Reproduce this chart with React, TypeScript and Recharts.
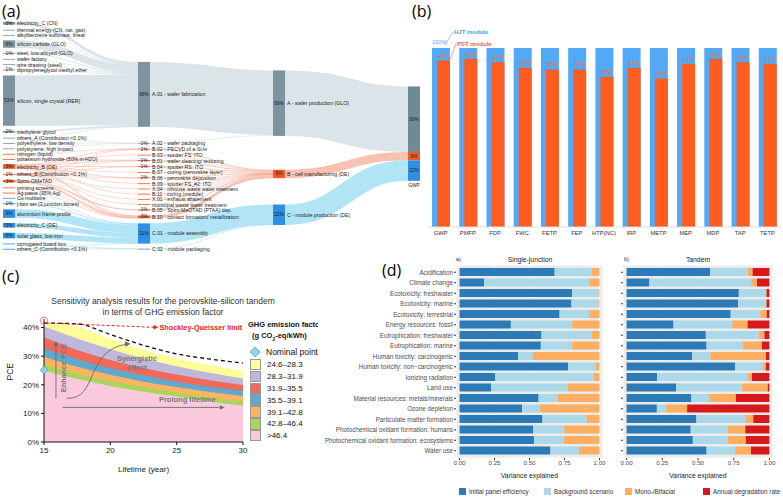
import React from "react";
import {
  Sankey,
  BarChart,
  Bar,
  XAxis,
  YAxis,
  CartesianGrid,
  LabelList,
  ComposedChart,
  Area,
  Line,
  ReferenceLine,
  ReferenceDot,
} from "recharts";

const FONT = '"Liberation Sans", Arial, sans-serif';

// ---------------- (a) sankey ----------------
const inputNodes: [string, string][] = [
  ["electricity_C (CN)", "A"],
  ["thermal energy (CN, nat. gas)", "A"],
  ["alkylbenzene sulfonate, linear", "A"],
  ["silicon carbide (GLO)", "A"],
  ["steel, low-alloyed (GLO)", "A"],
  ["wafer factory", "A"],
  ["wire drawing (steel)", "A"],
  ["dipropyleneglycol methyl ether", "A"],
  ["silicon, single crystal (RER)", "A"],
  ["triethylene glycol", "A"],
  ["others_A (Contribution <0.1%)", "A"],
  ["polyethylene, low density", "A"],
  ["polystyrene, high impact", "A"],
  ["nitrogen (liquid)", "B"],
  ["potassium hydroxide (50% in H2O)", "B"],
  ["electricity_B (DE)", "B"],
  ["others_B (Contribution <0.1%)", "B"],
  ["Spiro-OMeTAD", "B"],
  ["printing screens", "B"],
  ["Ag-paste (95% Ag)", "B"],
  ["Cu multiwire", "C"],
  ["j-box set (3 junction boxes)", "C"],
  ["aluminium frame profile", "C"],
  ["electricity_C (DE)", "C"],
  ["solar glass, low-iron", "C"],
  ["corrugated board box", "C"],
  ["others_C (Contribution <0.1%)", "C"],
];

const processNodes: [string, string][] = [
  ["A.01 - wafer fabrication", "A"],
  ["A.02 - wafer packaging", "A"],
  ["B.02 - PECVD of a-Si:H", "B"],
  ["B.03 - sputter FS: ITO", "B"],
  ["B.01 - wafer cleaning/ texturing", "B"],
  ["B.04 - sputter RS: ITO", "B"],
  ["B.07 - curing (perovskite layer)", "B"],
  ["B.06 - perovskite deposition", "B"],
  ["B.09 - sputter FS_#2: ITO", "B"],
  ["X.04 - inhouse waste water treatment", "B"],
  ["B.11 - curing (module)", "B"],
  ["X.01 - exhaust abatement", "B"],
  ["municipal waste water treatment", "B"],
  ["B.05 - Spiro-MeOTAD (PTAA) dep.", "B"],
  ["B.10 - contact formation/ metallization", "B"],
  ["C.01 - module assembly", "C"],
  ["C.02 - module packaging", "C"],
];

const stageNodes: [string, string][] = [
  ["A - wafer production (GLO)", "A"],
  ["B - cell manufacturing (DE)", "B"],
  ["C - module production (DE)", "C"],
];

const impactNode: [string, string] = ["GWP", "T"];

const inputLinks: [string, string, number][] = [
  ["electricity_C (CN)", "A.01 - wafer fabrication", 2.8],
  ["thermal energy (CN, nat. gas)", "A.01 - wafer fabrication", 0.2],
  ["alkylbenzene sulfonate, linear", "A.01 - wafer fabrication", 0.2],
  ["silicon carbide (GLO)", "A.01 - wafer fabrication", 7.8],
  ["steel, low-alloyed (GLO)", "A.01 - wafer fabrication", 1.0],
  ["wafer factory", "A.01 - wafer fabrication", 0.2],
  ["wire drawing (steel)", "A.01 - wafer fabrication", 0.2],
  ["dipropyleneglycol methyl ether", "A.01 - wafer fabrication", 0.9],
  ["silicon, single crystal (RER)", "A.01 - wafer fabrication", 53.0],
  ["triethylene glycol", "A.01 - wafer fabrication", 1.8],
  ["others_A (Contribution <0.1%)", "A.01 - wafer fabrication", 0.1],
  ["others_A (Contribution <0.1%)", "A.02 - wafer packaging", 0.1],
  ["polyethylene, low density", "A.02 - wafer packaging", 0.3],
  ["polystyrene, high impact", "A.02 - wafer packaging", 0.3],
  ["nitrogen (liquid)", "B.02 - PECVD of a-Si:H", 0.1],
  ["potassium hydroxide (50% in H2O)", "B.01 - wafer cleaning/ texturing", 0.1],
  ["electricity_B (DE)", "B.02 - PECVD of a-Si:H", 0.8],
  ["electricity_B (DE)", "B.03 - sputter FS: ITO", 0.2],
  ["electricity_B (DE)", "B.01 - wafer cleaning/ texturing", 0.8],
  ["electricity_B (DE)", "B.04 - sputter RS: ITO", 0.8],
  ["electricity_B (DE)", "B.07 - curing (perovskite layer)", 0.2],
  ["electricity_B (DE)", "B.06 - perovskite deposition", 0.8],
  ["electricity_B (DE)", "B.09 - sputter FS_#2: ITO", 0.2],
  ["electricity_B (DE)", "B.11 - curing (module)", 0.1],
  ["electricity_B (DE)", "B.10 - contact formation/ metallization", 1.0],
  ["others_B (Contribution <0.1%)", "B.02 - PECVD of a-Si:H", 0.1],
  ["others_B (Contribution <0.1%)", "B.01 - wafer cleaning/ texturing", 0.1],
  ["others_B (Contribution <0.1%)", "B.04 - sputter RS: ITO", 0.1],
  ["others_B (Contribution <0.1%)", "B.06 - perovskite deposition", 0.1],
  ["others_B (Contribution <0.1%)", "X.04 - inhouse waste water treatment", 0.1],
  ["others_B (Contribution <0.1%)", "X.01 - exhaust abatement", 0.1],
  ["others_B (Contribution <0.1%)", "municipal waste water treatment", 0.1],
  ["others_B (Contribution <0.1%)", "B.10 - contact formation/ metallization", 0.2],
  ["Spiro-OMeTAD", "B.05 - Spiro-MeOTAD (PTAA) dep.", 1.1],
  ["Spiro-OMeTAD", "B.10 - contact formation/ metallization", 1.5],
  ["printing screens", "B.10 - contact formation/ metallization", 0.1],
  ["Ag-paste (95% Ag)", "B.10 - contact formation/ metallization", 0.1],
  ["Cu multiwire", "C.01 - module assembly", 0.3],
  ["j-box set (3 junction boxes)", "C.01 - module assembly", 1.0],
  ["aluminium frame profile", "C.01 - module assembly", 9.0],
  ["electricity_C (DE)", "C.01 - module assembly", 4.9],
  ["solar glass, low-iron", "C.01 - module assembly", 6.0],
  ["corrugated board box", "C.02 - module packaging", 0.2],
  ["others_C (Contribution <0.1%)", "C.01 - module assembly", 0.1],
  ["others_C (Contribution <0.1%)", "C.02 - module packaging", 0.1],
];

const processLinks: [string, string, number][] = [
  ["A.01 - wafer fabrication", "A - wafer production (GLO)", 68.2],
  ["A.02 - wafer packaging", "A - wafer production (GLO)", 0.7],
  ["B.02 - PECVD of a-Si:H", "B - cell manufacturing (DE)", 1.0],
  ["B.03 - sputter FS: ITO", "B - cell manufacturing (DE)", 0.2],
  ["B.01 - wafer cleaning/ texturing", "B - cell manufacturing (DE)", 1.0],
  ["B.04 - sputter RS: ITO", "B - cell manufacturing (DE)", 0.9],
  ["B.07 - curing (perovskite layer)", "B - cell manufacturing (DE)", 0.2],
  ["B.06 - perovskite deposition", "B - cell manufacturing (DE)", 0.9],
  ["B.09 - sputter FS_#2: ITO", "B - cell manufacturing (DE)", 0.2],
  ["X.04 - inhouse waste water treatment", "B - cell manufacturing (DE)", 0.1],
  ["B.11 - curing (module)", "B - cell manufacturing (DE)", 0.1],
  ["X.01 - exhaust abatement", "B - cell manufacturing (DE)", 0.1],
  ["municipal waste water treatment", "B - cell manufacturing (DE)", 0.1],
  ["B.05 - Spiro-MeOTAD (PTAA) dep.", "B - cell manufacturing (DE)", 1.1],
  ["B.10 - contact formation/ metallization", "B - cell manufacturing (DE)", 2.9],
  ["C.01 - module assembly", "C - module production (DE)", 21.3],
  ["C.02 - module packaging", "C - module production (DE)", 0.3],
];

const stageLinks: [string, string, number][] = [
  ["A - wafer production (GLO)", "GWP", 68.9],
  ["B - cell manufacturing (DE)", "GWP", 8.8],
  ["C - module production (DE)", "GWP", 21.6],
];

const NODE_COLOR: Record<string, string> = { A: "#7d94a0", B: "#f05a28", C: "#2e8fe4" };
const LINK_COLOR: Record<string, string> = { A: "#c3d2d9", B: "#f49a80", C: "#7dd3ee" };

const allNodes = [...inputNodes, ...processNodes, ...stageNodes, impactNode];
const nodeIndex = (name: string) => allNodes.findIndex((n) => n[0] === name);

const sankeyData = {
  nodes: allNodes.map(([name, group]) => ({ name, group })),
  links: [...inputLinks, ...processLinks, ...stageLinks].map(([s, t, v]) => ({
    source: nodeIndex(s),
    target: nodeIndex(t),
    value: v,
    group: allNodes[nodeIndex(s)][1],
  })),
};

const tinyText = { fontFamily: FONT, fontSize: 5.2, fill: "#222" };

const SankeyNode = (props: any) => {
  const { x, y, width, height, payload } = props;
  if (payload.group === "T") {
    let top = y;
    return (
      <g>
        {stageLinks.map(([src, , v], i) => {
          const h = (height * v) / payload.value;
          const g = allNodes[nodeIndex(src)][1];
          const el = (
            <g key={i}>
              <rect x={x} y={top} width={width} height={h} fill={g === "A" ? "#6f8995" : NODE_COLOR[g]} />
              <text x={x + width / 2} y={top + h / 2} textAnchor="middle" dominantBaseline="central" {...tinyText} fontSize={4.8}>
                {Math.round(v)}%
              </text>
            </g>
          );
          top += h;
          return el;
        })}
        <text x={x + width / 2} y={y + height + 6} textAnchor="middle" {...tinyText} fontSize={4.8}>
          GWP
        </text>
      </g>
    );
  }
  const h = Math.max(height, 0.8);
  const pct = payload.value >= 0.5 ? `${Math.round(payload.value)}%` : "";
  return (
    <g>
      <rect x={x} y={y} width={width} height={h} fill={NODE_COLOR[payload.group]} />
      {pct && (
        <text x={x + width / 2} y={y + h / 2} textAnchor="middle" dominantBaseline="central" {...tinyText} fontSize={4.8}>
          {pct}
        </text>
      )}
      <text x={x + width + 2} y={y + h / 2} dominantBaseline="central" {...tinyText}>
        {payload.name}
      </text>
    </g>
  );
};

const SankeyLink = (props: any) => {
  const { sourceX, targetX, sourceY, targetY, sourceControlX, targetControlX, linkWidth, payload } = props;
  return (
    <path
      d={`M${sourceX},${sourceY}C${sourceControlX},${sourceY} ${targetControlX},${targetY} ${targetX},${targetY}`}
      fill="none"
      stroke={LINK_COLOR[payload.group]}
      strokeWidth={Math.max(linkWidth, 0.6)}
      strokeOpacity={0.6}
    />
  );
};

// ---------------- (b) bars ----------------
const impactCodes = ["GWP", "PMFP", "FDP", "FWC", "FETP", "FEP", "HTP(NC)", "IRP", "METP", "MEP", "MDP", "TAP", "TETP"];
const hjtModule = [100, 100, 100, 100, 100, 100, 100, 100, 100, 100, 100, 100, 100];
const pstModule = [93, 94, 92, 89, 88, 88, 84, 89, 83, 91, 94, 92, 91];
const barData = impactCodes.map((name, i) => ({ name, hjt: hjtModule[i], pst: pstModule[i] }));

const BLUE = "#52a9f5";
const ORANGE = "#ff5c1f";

const HjtLabel = (props: any) => {
  const { x, y, width, index } = props;
  if (index !== 0) return null;
  return (
    <g style={{ fontFamily: FONT }}>
      <text x={x + width / 2 - 2} y={y - 4} textAnchor="middle" fontSize={5.5} fill="#4aa3ef">100%</text>
      <line x1={x + width / 2 + 4} y1={y - 3} x2={x + width + 3} y2={y - 16} stroke="#4aa3ef" strokeWidth={0.6} />
      <text x={x + width + 4} y={y - 14} fontSize={6} fontWeight="bold" fill="#4aa3ef">HJT module</text>
    </g>
  );
};

const PstLabel = (props: any) => {
  const { x, y, width, index, value } = props;
  return (
    <g style={{ fontFamily: FONT }}>
      <text x={x + width / 2} y={y - 3} textAnchor="middle" fontSize={5.5} fill="#f2663a">{value}%</text>
      {index === 0 && (
        <>
          <line x1={x + width} y1={y - 1} x2={x + width + 6} y2={y - 17} stroke="#f2663a" strokeWidth={0.6} />
          <text x={x + width + 7} y={y - 15} fontSize={6} fontWeight="bold" fill="#f2663a">PST module</text>
        </>
      )}
    </g>
  );
};

// ---------------- (c) sensitivity ----------------
const lifetimes = [15, 17.5, 20, 22.5, 25, 27.5, 30];
const top246 = [41.6, 40.4, 36.0, 32.2, 29.2, 26.8, 24.8];
const top283 = [40.4, 36.2, 32.4, 29.2, 26.5, 24.2, 22.2];
const top319 = [36.5, 32.2, 28.7, 25.9, 23.6, 21.6, 19.9];
const top355 = [32.8, 28.9, 25.8, 23.3, 21.1, 19.3, 17.8];
const top391 = [29.8, 26.3, 23.5, 21.1, 19.2, 17.5, 16.1];
const top428 = [27.2, 23.9, 21.3, 19.1, 17.3, 15.6, 14.1];
const top464 = [25.0, 22.0, 19.6, 17.6, 15.9, 14.2, 12.7];
const sqBound = [41.6, 41.3, 37.6, 33.8, 30.8, 29.0, 27.6];

const bandKeys = ["b246", "b283", "b319", "b355", "b391", "b428", "b464"];
const bandTops = [top246, top283, top319, top355, top391, top428, top464];
const bandColors = ["#ffff99", "#bfb8dc", "#f06a5c", "#5ea9cf", "#fdb462", "#a8d65a", "#fbc9de"];
const bandLabels = ["24.6\u201328.3", "28.3\u201331.9", "31.9\u201335.5", "35.5\u201339.1", "39.1\u201342.8", "42.8\u201346.4", ">46.4"];

const pceData = lifetimes.map((lifetime, i) => {
  const row: any = { lifetime, sq: sqBound[i] };
  bandKeys.forEach((k, j) => (row[k] = bandTops[j][i]));
  return row;
});

const GREY = "#6b6b6b";

// ---------------- (d) variance ----------------
const impactCategories = [
  "Acidification",
  "Climate change",
  "Ecotoxicity: freshwater",
  "Ecotoxicity: marine",
  "Ecotoxicity: terrestrial",
  "Energy resources: fossil",
  "Eutrophication: freshwater",
  "Eutrophication: marine",
  "Human toxicity: carcinogenic",
  "Human toxicity: non\u2212carcinogenic",
  "Ionizing radiation",
  "Land use",
  "Material resources: metals/minerals",
  "Ozone depletion",
  "Particulate matter formation",
  "Photochemical oxidant formation: humans",
  "Photochemical oxidant formation: ecosystems",
  "Water use",
];
const sjInitial = [0.68, 0.176, 0.805, 0.8, 0.715, 0.367, 0.586, 0.581, 0.419, 0.776, 0.256, 0.226, 0.565, 0.447, 0.593, 0.527, 0.532, 0.65];
const sjBackground = [0.266, 0.751, 0.188, 0.193, 0.21, 0.438, 0.36, 0.224, 0.106, 0.196, 0.702, 0.548, 0.139, 0.129, 0.315, 0.221, 0.212, 0.202];
const sjMono = [0.054, 0.073, 0.007, 0.007, 0.075, 0.195, 0.054, 0.195, 0.475, 0.028, 0.042, 0.226, 0.296, 0.424, 0.092, 0.252, 0.256, 0.148];
const sjDegradation = [0, 0, 0, 0, 0, 0, 0, 0, 0, 0, 0, 0, 0, 0, 0, 0, 0, 0];
const tdInitial = [0.584, 0.16, 0.786, 0.781, 0.729, 0.329, 0.555, 0.56, 0.459, 0.76, 0.214, 0.346, 0.454, 0.212, 0.489, 0.449, 0.464, 0.56];
const tdBackground = [0.265, 0.713, 0.19, 0.195, 0.207, 0.412, 0.37, 0.252, 0.129, 0.193, 0.633, 0.461, 0.122, 0.066, 0.342, 0.257, 0.242, 0.2];
const tdMono = [0.033, 0.04, 0.004, 0.004, 0.045, 0.106, 0.04, 0.136, 0.388, 0.023, 0.031, 0.181, 0.189, 0.146, 0.056, 0.125, 0.129, 0.111];
const tdDegradation = [0.118, 0.087, 0.02, 0.02, 0.019, 0.153, 0.035, 0.052, 0.024, 0.024, 0.122, 0.012, 0.235, 0.576, 0.113, 0.169, 0.165, 0.129];

const sjData = impactCategories.map((name, i) => ({ name, a: sjInitial[i], b: sjBackground[i], c: sjMono[i], d: sjDegradation[i] }));
const tdData = impactCategories.map((name, i) => ({ name, a: tdInitial[i], b: tdBackground[i], c: tdMono[i], d: tdDegradation[i] }));

const FACTORS = [
  { key: "a", label: "Initial panel efficiency", color: "#2c7bb6" },
  { key: "b", label: "Background scenario", color: "#abd9e9" },
  { key: "c", label: "Mono-/Bifacial", color: "#fdae61" },
  { key: "d", label: "Annual degradation rate", color: "#d7191c" },
];

const VarianceChart: React.FC<{ data: any[]; left: number; width: number; axisWidth: number; showLabels: boolean }> = ({
  data,
  left,
  width,
  axisWidth,
  showLabels,
}) => (
  <div style={{ position: "absolute", left, top: 252 }}>
    <BarChart
      layout="vertical"
      width={width}
      height={228}
      data={data}
      margin={{ top: 13, right: 3, left: 0, bottom: 0 }}
      barSize={8}
      style={{ fontFamily: FONT }}
    >
      <CartesianGrid fill="#ebebeb" stroke="#ffffff" strokeWidth={0.8} />
      <XAxis
        type="number"
        domain={[-0.025, 1.025]}
        ticks={[0, 0.25, 0.5, 0.75, 1]}
        tickFormatter={(v: number) => v.toFixed(2)}
        tick={{ fontSize: 6.2, fill: "#4d4d4d" }}
        tickSize={2}
        tickMargin={1}
        axisLine={false}
        stroke="#333"
        height={22}
        label={{ value: "Variance explained", position: "insideBottom", offset: 2, fontSize: 6.8, fill: "#222" }}
      />
      <YAxis
        type="category"
        dataKey="name"
        width={axisWidth}
        interval={0}
        tick={(p: any) => (
          <text x={p.x} y={p.y} textAnchor="end" dominantBaseline="central" fontSize={6.3} fill="#4d4d4d" fontFamily={FONT}>
            {showLabels ? p.payload.value : ""}
          </text>
        )}
        tickSize={2}
        tickMargin={1}
        axisLine={false}
        stroke="#333"
        padding={{ top: 2, bottom: 2 }}
      />
      {FACTORS.map((f) => (
        <Bar key={f.key} dataKey={f.key} stackId="s" fill={f.color} isAnimationActive={false} />
      ))}
    </BarChart>
  </div>
);

const arrowHead = (dir: "up" | "right", color: string) => (p: any) => {
  const { cx, cy } = p;
  const d =
    dir === "up"
      ? `M${cx},${cy - 3} L${cx - 2.2},${cy + 2} L${cx + 2.2},${cy + 2} Z`
      : `M${cx + 3},${cy} L${cx - 2},${cy - 2.2} L${cx - 2},${cy + 2.2} Z`;
  return <path d={d} fill={color} />;
};

const App: React.FC = () => {
  return (
    <div style={{ position: "relative", width: 783, height: 498, background: "#fff", overflow: "hidden", fontFamily: FONT }}>
      <style>{"body{margin:0}"}</style>

      {/* panel letters */}
      <div style={{ position: "absolute", left: 2, top: 0, fontFamily: '"Open Sans", sans-serif', fontSize: 16 }}>(a)</div>
      <div style={{ position: "absolute", left: 412, top: 0, fontFamily: '"Open Sans", sans-serif', fontSize: 16 }}>(b)</div>
      <div style={{ position: "absolute", left: 2, top: 265, fontFamily: '"Open Sans", sans-serif', fontSize: 16 }}>(c)</div>
      <div style={{ position: "absolute", left: 382, top: 259, fontFamily: '"Open Sans", sans-serif', fontSize: 16 }}>(d)</div>

      {/* (a) */}
      <div style={{ position: "absolute", left: 0, top: 0 }}>
        <Sankey
          width={425}
          height={252}
          data={sankeyData}
          node={SankeyNode}
          link={SankeyLink}
          nodeWidth={12}
          nodePadding={5.1}
          iterations={32}
          sort={false}
          margin={{ top: 22, right: 5, bottom: 3, left: 3 }}
        />
      </div>

      {/* (b) */}
      <div style={{ position: "absolute", left: 420, top: 0 }}>
        <BarChart width={363} height={245} data={barData} margin={{ top: 48, right: 2, left: 7, bottom: 4 }} barGap={-13} barCategoryGap={0}>
          <XAxis
            dataKey="name"
            interval={0}
            tickLine={false}
            tickSize={0}
            tickMargin={4}
            height={14}
            stroke="#dddddd"
            tick={{ fontSize: 5.8, fill: "#333", fontFamily: FONT }}
          />
          <YAxis hide domain={[0, 100]} />
          <Bar dataKey="hjt" fill={BLUE} barSize={18} isAnimationActive={false}>
            <LabelList dataKey="hjt" content={HjtLabel} />
          </Bar>
          <Bar dataKey="pst" fill={ORANGE} barSize={13} isAnimationActive={false}>
            <LabelList dataKey="pst" content={PstLabel} />
          </Bar>
        </BarChart>
      </div>

      {/* (c) */}
      <div style={{ position: "absolute", left: 0, top: 296, width: 326, textAlign: "center", fontSize: 8.5, color: "#333", lineHeight: "11px" }}>
        <div>Sensitivity analysis results for the perovskite-silicon tandem</div>
        <div>in terms of GHG emission factor</div>
      </div>
      <div style={{ position: "absolute", left: 0, top: 300 }}>
        <ComposedChart width={250} height={175} data={pceData} margin={{ top: 19, right: 7, left: 10, bottom: 3 }} style={{ fontFamily: FONT }}>
          {bandKeys.map((k, i) => (
            <Area
              key={k}
              type="monotone"
              dataKey={k}
              stroke="none"
              fill={bandColors[i]}
              fillOpacity={1}
              isAnimationActive={false}
              dot={false}
              activeDot={false}
            />
          ))}
          <Line type="monotone" dataKey="sq" stroke="#111" strokeWidth={1.3} strokeDasharray="4 3" dot={false} isAnimationActive={false} />
          <XAxis
            type="number"
            dataKey="lifetime"
            domain={[15, 30]}
            ticks={[15, 20, 25, 30]}
            stroke="#111"
            tickSize={3}
            height={30}
            tick={{ fontSize: 8, fill: "#222" }}
            label={{ value: "Lifetime (year)", position: "insideBottom", offset: 0, fontSize: 8, fill: "#222" }}
          />
          <YAxis
            type="number"
            domain={[0, 43]}
            ticks={[0, 10, 20, 30, 40]}
            tickFormatter={(v: number) => `${v}%`}
            stroke="#111"
            tickSize={3}
            width={34}
            tick={{ fontSize: 8, fill: "#222" }}
            label={{ value: "PCE", angle: -90, position: "insideLeft", offset: 0, fontSize: 8.5, fill: "#222" }}
          />
          {/* Shockley-Queisser annotation */}
          <ReferenceLine segment={[{ x: 15.2, y: 41.6 }, { x: 23.3, y: 40.1 }]} stroke="#e8231b" strokeWidth={1} strokeDasharray="3 2" ifOverflow="visible" />
          <ReferenceDot
            x={23.4}
            y={40.1}
            ifOverflow="visible"
            shape={(p: any) => (
              <g>
                {arrowHead("right", "#e8231b")(p)}
                <text x={p.cx + 4} y={p.cy} dominantBaseline="central" fontSize={7.3} fontWeight="bold" fill="#e8231b">
                  Shockley-Queisser limit
                </text>
              </g>
            )}
          />
          <ReferenceDot x={15} y={42.4} r={3.6} fill="none" stroke="#f05a4a" strokeWidth={0.8} ifOverflow="visible" />
          <ReferenceDot
            x={15}
            y={25.2}
            ifOverflow="visible"
            shape={(p: any) => (
              <path d={`M${p.cx},${p.cy - 4} L${p.cx + 4},${p.cy} L${p.cx},${p.cy + 4} L${p.cx - 4},${p.cy} Z`} fill="#8fd3e8" stroke="#3d7f96" strokeWidth={0.5} />
            )}
          />
          {/* enhance PCE */}
          <ReferenceLine segment={[{ x: 15.9, y: 15.3 }, { x: 15.9, y: 33.6 }]} stroke={GREY} strokeWidth={0.9} />
          <ReferenceDot x={15.9} y={34.3} shape={arrowHead("up", GREY)} />
          <ReferenceDot
            x={16.5}
            y={25.9}
            shape={(p: any) => (
              <text x={p.cx} y={p.cy} transform={`rotate(-90 ${p.cx} ${p.cy})`} textAnchor="middle" dominantBaseline="central" fontSize={7.5} fontWeight="bold" fill="#777">
                Enhance PCE
              </text>
            )}
          />
          {/* prolong lifetime */}
          <ReferenceLine segment={[{ x: 16.4, y: 12.1 }, { x: 28.2, y: 12.1 }]} stroke={GREY} strokeWidth={0.9} />
          <ReferenceDot x={28.4} y={12.1} shape={arrowHead("right", GREY)} />
          <ReferenceDot
            x={25.8}
            y={14.7}
            shape={(p: any) => (
              <text x={p.cx} y={p.cy} textAnchor="middle" dominantBaseline="central" fontSize={7.5} fontWeight="bold" fill="#777">
                Prolong lifetime
              </text>
            )}
          />
          {/* synergistic effect */}
          <ReferenceDot
            x={16.7}
            y={15.3}
            shape={(p: any) => (
              <g>
                <path d={`M${p.cx},${p.cy} C${p.cx + 32},${p.cy + 2} ${p.cx + 18},${p.cy - 48} ${p.cx + 60},${p.cy - 54}`} fill="none" stroke={GREY} strokeWidth={0.9} />
                <path d={`M${p.cx + 64},${p.cy - 54.5} L${p.cx + 58},${p.cy - 57} L${p.cx + 59},${p.cy - 51.5} Z`} fill={GREY} />
              </g>
            )}
          />
          <ReferenceDot
            x={22.0}
            y={27}
            shape={(p: any) => (
              <text x={p.cx} y={p.cy} textAnchor="middle" fontSize={7.5} fontWeight="bold" fill="#777">
                <tspan x={p.cx} dy={-4}>Synergistic</tspan>
                <tspan x={p.cx} dy={9}>effect</tspan>
              </text>
            )}
          />
        </ComposedChart>
      </div>

      {/* (c) legend */}
      <div style={{ position: "absolute", left: 248, top: 319, width: 70, height: 130, overflow: "hidden", color: "#111" }}>
        <div style={{ fontSize: 7.5, fontWeight: "bold", whiteSpace: "nowrap", lineHeight: "11px" }}>GHG emission factor</div>
        <div style={{ fontSize: 7.5, fontWeight: "bold", whiteSpace: "nowrap", lineHeight: "11px", paddingLeft: 4 }}>
          (g CO<sub style={{ fontSize: 5 }}>2</sub>-eq/kWh)
        </div>
        <div style={{ display: "flex", alignItems: "center", height: 13, marginTop: 1, whiteSpace: "nowrap" }}>
          <svg width={16} height={12}>
            <path d="M7,1 L12,6 L7,11 L2,6 Z" fill="#8fd3e8" stroke="#3d7f96" strokeWidth={0.5} />
          </svg>
          <span style={{ fontSize: 8.5, marginLeft: 2 }}>Nominal point</span>
        </div>
        {bandLabels.map((label, i) => (
          <div key={label} style={{ display: "flex", alignItems: "center", height: 11.9 }}>
            <div style={{ width: 11, height: 11.4, marginLeft: 2, background: bandColors[i], border: "0.5px solid #999", boxSizing: "border-box" }} />
            <span style={{ fontSize: 8, marginLeft: 6 }}>{label}</span>
          </div>
        ))}
      </div>

      {/* (d) titles */}
      <div style={{ position: "absolute", left: 456, top: 256, fontSize: 5.5, color: "#333" }}>a)</div>
      <div style={{ position: "absolute", left: 456, top: 256, width: 148, textAlign: "center", fontSize: 6.8, color: "#222" }}>Single-junction</div>
      <div style={{ position: "absolute", left: 624, top: 256, fontSize: 5.5, color: "#333" }}>b)</div>
      <div style={{ position: "absolute", left: 623, top: 256, width: 150, textAlign: "center", fontSize: 6.8, color: "#222" }}>Tandem</div>

      <VarianceChart data={sjData} left={310} width={296} axisWidth={146} showLabels />
      <VarianceChart data={tdData} left={617} width={159} axisWidth={6} showLabels={false} />

      {/* (d) legend */}
      <div style={{ position: "absolute", left: 459, top: 488, display: "flex", alignItems: "center", fontSize: 6.3, color: "#333" }}>
        {FACTORS.map((f, i) => (
          <div key={f.key} style={{ display: "flex", alignItems: "center", width: [85, 81, 78, 80][i] }}>
            <div style={{ width: 7, height: 7, background: f.color, marginRight: 3 }} />
            <span style={{ whiteSpace: "nowrap" }}>{f.label}</span>
          </div>
        ))}
      </div>
    </div>
  );
};

export default App;
